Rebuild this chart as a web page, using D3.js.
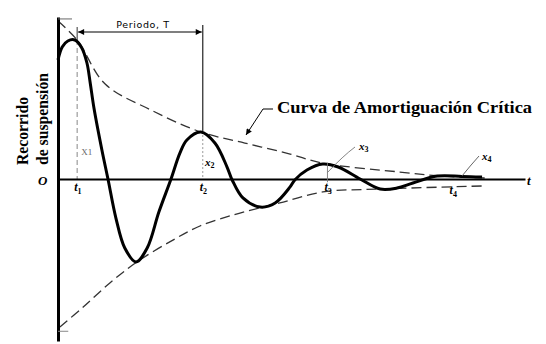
<!DOCTYPE html>
<html>
<head>
<meta charset="utf-8">
<script src="https://cdn.jsdelivr.net/npm/d3@7"></script>
<style>
  body { margin: 0; background: #fff; }
  svg { display: block; }
</style>
</head>
<body>
<div id="chart"></div>
<script>
// damped oscillation (t in arbitrary units, y relative)
const curveT = [0, 0.09, 0.21, 0.36, 0.51, 0.62, 0.69, 0.77, 0.94, 1.07, 1.24, 1.43, 1.67, 1.91, 2.16, 2.42,
  2.61, 2.76, 3.06, 3.36, 3.62, 3.73, 3.96, 4.33, 4.65, 4.97, 5.07, 5.33, 5.67, 6.00, 6.47, 6.90, 7.26, 7.60,
  8.12, 8.65, 9.08];
const curveY = [0.735, 0.815, 0.852, 0.858, 0.809, 0.716, 0.593, 0.438, 0.179, 0, -0.241, -0.426, -0.512,
  -0.426, -0.204, 0, 0.160, 0.241, 0.290, 0.222, 0.074, -0.006, -0.117, -0.173, -0.148, -0.049, -0.006, 0.056,
  0.093, 0.074, 0, -0.062, -0.056, -0.025, 0.018, 0.016, 0.012];

// critical damping envelope (upper / lower)
const upperT = [0, 0.41, 1.01, 1.99, 3.06, 4.00, 4.97, 5.65, 7.32, 8.18, 9.14];
const upperY = [0.975, 0.858, 0.586, 0.426, 0.290, 0.222, 0.154, 0.099, 0.043, 0.019, 0.006];
const lowerT = [0.04, 0.54, 1.11, 1.69, 2.46, 3.04, 3.75, 4.39, 4.75, 5.67, 6.90, 9.10];
const lowerY = [-0.914, -0.790, -0.642, -0.512, -0.377, -0.290, -0.222, -0.173, -0.148, -0.080, -0.062, -0.043];

// marked instants and peak amplitudes
const markNames = ["1", "2", "3", "4"];
const markT = [0.41, 3.10, 5.77, 8.45];
const peakY = [0.858, 0.296, 0.093, 0.02];

const width = 546, height = 344;

const svg = d3.select("#chart")
  .append("svg")
  .attr("width", width)
  .attr("height", height)
  .style("font-family", "'Liberation Serif', 'Times New Roman', serif");

const x = d3.scaleLinear().domain([0, 10]).range([58, 525]);
const y = d3.scaleLinear().domain([-1, 1]).range([341, 17]);

const defs = svg.append("defs");
defs.append("marker")
  .attr("id", "arr")
  .attr("viewBox", "0 0 10 10")
  .attr("refX", 10).attr("refY", 5)
  .attr("markerWidth", 8).attr("markerHeight", 6)
  .attr("markerUnits", "userSpaceOnUse")
  .attr("orient", "auto-start-reverse")
  .append("path")
  .attr("d", "M0,0 L10,5 L0,10 z")
  .attr("fill", "#000");

// vertical dashed guides at t1, t2
svg.append("line")
  .attr("x1", x(markT[0])).attr("x2", x(markT[0]))
  .attr("y1", y(peakY[0])).attr("y2", y(0))
  .attr("stroke", "#888").attr("stroke-width", 1)
  .attr("stroke-dasharray", "5,3");
svg.append("line")
  .attr("x1", x(markT[1])).attr("x2", x(markT[1]))
  .attr("y1", y(peakY[1])).attr("y2", y(0))
  .attr("stroke", "#999").attr("stroke-width", 1)
  .attr("stroke-dasharray", "2,2");

// Period annotation
svg.append("line")
  .attr("x1", x(markT[0])).attr("x2", x(markT[0]))
  .attr("y1", 27).attr("y2", y(peakY[0]))
  .attr("stroke", "#333").attr("stroke-width", 1);
svg.append("line")
  .attr("x1", x(markT[1])).attr("x2", x(markT[1]))
  .attr("y1", 25).attr("y2", y(peakY[1]))
  .attr("stroke", "#222").attr("stroke-width", 1.2);
svg.append("line")
  .attr("x1", x(markT[0]) + 1).attr("x2", x(markT[1]) - 1)
  .attr("y1", 32).attr("y2", 32)
  .attr("stroke", "#000").attr("stroke-width", 1.2)
  .attr("marker-start", "url(#arr)")
  .attr("marker-end", "url(#arr)");
svg.append("text")
  .attr("x", (x(markT[0]) + x(markT[1])) / 2 + 3)
  .attr("y", 28)
  .attr("text-anchor", "middle")
  .style("font-family", "'DejaVu Sans', sans-serif")
  .style("font-size", "9.5px")
  .style("letter-spacing", "0.6px")
  .text("Periodo, T");

// envelope
const line = d3.line().x(d => x(d[0])).y(d => y(d[1])).curve(d3.curveCatmullRom.alpha(0.5));

svg.append("path")
  .datum(d3.zip(upperT, upperY))
  .attr("fill", "none")
  .attr("stroke", "#333")
  .attr("stroke-width", 1.3)
  .attr("stroke-dasharray", "10,5")
  .attr("d", line);
svg.append("path")
  .datum(d3.zip(lowerT, lowerY))
  .attr("fill", "none")
  .attr("stroke", "#333")
  .attr("stroke-width", 1.3)
  .attr("stroke-dasharray", "10,5")
  .attr("d", line);

// axes
svg.append("g")
  .attr("transform", `translate(0,${y(0)})`)
  .call(d3.axisBottom(x).tickValues([]).tickSizeOuter(0))
  .select(".domain").attr("stroke-width", 2);
svg.append("g")
  .attr("transform", `translate(${x(0)},0)`)
  .call(d3.axisLeft(y).tickValues([]).tickSizeOuter(0))
  .select(".domain").attr("stroke-width", 3);

// small ticks at envelope ends
svg.append("line")
  .attr("x1", x(0)).attr("x2", x(0.3))
  .attr("y1", y(0.988)).attr("y2", y(0.988))
  .attr("stroke", "#666").attr("stroke-width", 1);
svg.append("line")
  .attr("x1", x(0)).attr("x2", x(0.22))
  .attr("y1", y(-0.94)).attr("y2", y(-0.94))
  .attr("stroke", "#888").attr("stroke-width", 1);

// oscillation
svg.append("path")
  .datum(d3.zip(curveT, curveY))
  .attr("fill", "none")
  .attr("stroke", "#000")
  .attr("stroke-width", 3)
  .attr("stroke-linejoin", "round")
  .attr("d", line);

// labels on time axis
const tLab = svg.append("g")
  .style("font-style", "italic")
  .style("font-weight", "bold")
  .style("font-size", "12px");
markNames.forEach((n, i) => {
  const t = tLab.append("text")
    .attr("x", x(markT[i]) - 3)
    .attr("y", i < 3 ? 191 : 194);
  t.append("tspan").text("t");
  t.append("tspan").attr("dy", 3).style("font-size", "8px").style("font-style", "normal").text(n);
});

svg.append("text")
  .attr("x", 527).attr("y", 185)
  .style("font-style", "italic").style("font-weight", "bold").style("font-size", "13px")
  .text("t");
svg.append("text")
  .attr("x", 38).attr("y", 185)
  .style("font-style", "italic").style("font-weight", "bold").style("font-size", "13px")
  .text("O");

// amplitude labels
svg.append("text")
  .attr("x", x(markT[0]) + 4).attr("y", 155)
  .attr("fill", "#666")
  .style("font-size", "9px")
  .text("X1");
const ampPos = [[205, 166], [359, 150], [482, 160]];
ampPos.forEach((p, i) => {
  const t = svg.append("text")
    .attr("x", p[0]).attr("y", p[1])
    .style("font-style", "italic").style("font-weight", "bold").style("font-size", "11px");
  t.append("tspan").text("x");
  t.append("tspan").attr("dy", 2).style("font-size", "8px").style("font-style", "normal").text(markNames[i + 1]);
});

// leaders for x3 and x4
svg.append("path")
  .attr("d", `M${x(markT[2])},${y(-0.02)} L${x(markT[2])},${y(0.1)} M${x(markT[2])},${y(0.04)} Q343,156 355,147`)
  .attr("fill", "none").attr("stroke", "#777").attr("stroke-width", 0.9);
svg.append("path")
  .attr("d", "M462,176 Q470,166 479,156")
  .attr("fill", "none").attr("stroke", "#555").attr("stroke-width", 0.9);

// critical damping label + leader
svg.append("path")
  .attr("d", "M273,109 L263,109 L246,135")
  .attr("fill", "none").attr("stroke", "#000").attr("stroke-width", 1)
  .attr("marker-end", "url(#arr)");
svg.append("text")
  .attr("x", 277).attr("y", 113)
  .attr("textLength", 255)
  .attr("lengthAdjust", "spacingAndGlyphs")
  .style("font-weight", "bold").style("font-size", "16.5px")
  .text("Curva de Amortiguación Crítica");

// y label
const yl = svg.append("g")
  .style("font-weight", "bold").style("font-size", "17px");
yl.append("text")
  .attr("transform", "translate(28,165) rotate(-90)")
  .attr("textLength", 68)
  .attr("lengthAdjust", "spacingAndGlyphs")
  .text("Recorrido");
yl.append("text")
  .attr("transform", "translate(48,165) rotate(-90)")
  .attr("textLength", 92)
  .attr("lengthAdjust", "spacingAndGlyphs")
  .text("de suspensión");
</script>
</body>
</html>
